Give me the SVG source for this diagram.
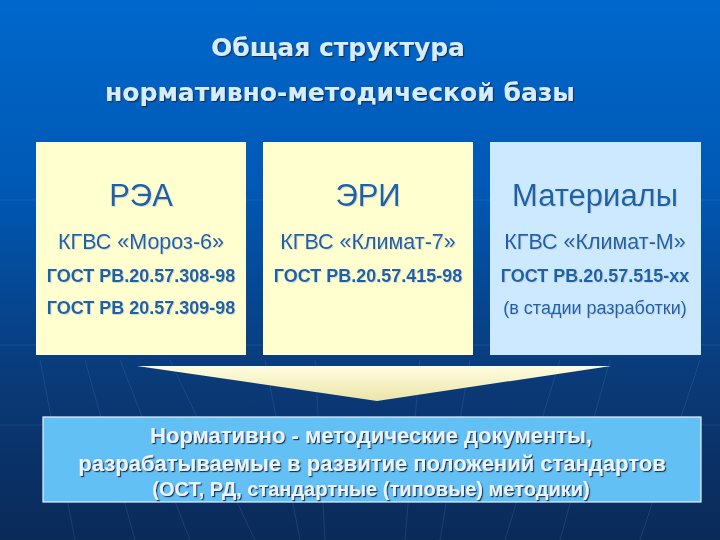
<svg xmlns="http://www.w3.org/2000/svg" width="720" height="540" viewBox="0 0 720 540">
<defs>
<linearGradient id="bg" x1="0" y1="0" x2="0" y2="1">
<stop offset="0" stop-color="#0068cc"/>
<stop offset="0.35" stop-color="#0058b4"/>
<stop offset="0.7" stop-color="#0a3a78"/>
<stop offset="1" stop-color="#0a2a58"/>
</linearGradient>
<linearGradient id="tri" x1="0" y1="0" x2="0" y2="1">
<stop offset="0" stop-color="#fffde0"/>
<stop offset="1" stop-color="#ece4a8"/>
</linearGradient>
<filter id="sh" x="-5%" y="-5%" width="110%" height="120%">
<feDropShadow dx="1.2" dy="1.2" stdDeviation="0.3" flood-color="#1a2a40" flood-opacity="0.9"/>
</filter>
<filter id="shl" x="-5%" y="-5%" width="110%" height="120%">
<feDropShadow dx="1" dy="1" stdDeviation="0.2" flood-color="#b8bcc0" flood-opacity="0.5"/>
</filter>
</defs>
<style>
.title{font-family:"DejaVu Sans",Verdana,sans-serif;font-weight:bold;font-size:25px;fill:#d6ecff;text-anchor:middle}
.yel{fill:#ffffcf}
.blu{fill:#cce9ff}
.head{font-family:"Liberation Sans",Arial,sans-serif;font-size:31px;fill:#1a62aa;text-anchor:middle}
.sub{font-family:"Liberation Sans",Arial,sans-serif;font-size:21.5px;fill:#1a62aa;text-anchor:middle}
.std{font-family:"Liberation Sans",Arial,sans-serif;font-size:18px;font-weight:bold;fill:#1a62aa;text-anchor:middle}
.note{font-family:"Liberation Sans",Arial,sans-serif;font-size:18px;font-weight:normal;fill:#1a62aa;text-anchor:middle}
.btxt{font-family:"Liberation Sans",Arial,sans-serif;font-weight:bold;fill:#eaf4ff;text-anchor:middle}
.grid{stroke:#5a8ac8;stroke-opacity:0.22;stroke-width:1;fill:none}
</style>
<rect x="0" y="0" width="720" height="540" fill="url(#bg)"/>
<g class="grid">
<line x1="0" y1="200" x2="720" y2="200"/>
<line x1="0" y1="345" x2="720" y2="345"/>
<line x1="0" y1="425" x2="720" y2="425"/>
<line x1="40" y1="360" x2="75" y2="540"/>
<line x1="85" y1="360" x2="135" y2="540"/>
<line x1="120" y1="360" x2="190" y2="540"/>
<line x1="170" y1="360" x2="255" y2="540"/>
<line x1="265" y1="360" x2="300" y2="540"/>
<line x1="315" y1="360" x2="325" y2="540"/>
<line x1="420" y1="360" x2="405" y2="540"/>
<line x1="470" y1="360" x2="440" y2="540"/>
<line x1="560" y1="360" x2="505" y2="540"/>
<line x1="610" y1="360" x2="560" y2="540"/>
<line x1="700" y1="360" x2="640" y2="540"/>
</g>
<g id="title" filter="url(#sh)">
<text class="title" x="338" y="56">Общая структура</text>
<text class="title" x="340" y="101">нормативно-методической базы</text>
</g>
<g id="node-rea">
<rect class="yel" x="36" y="142" width="210" height="213"/>
<g filter="url(#shl)">
<text class="head" x="141" y="206">РЭА</text>
<text class="sub" x="141" y="249">КГВС «Мороз-6»</text>
<text class="std" x="141" y="282">ГОСТ РВ.20.57.308-98</text>
<text class="std" x="141" y="314">ГОСТ РВ 20.57.309-98</text>
</g>
</g>
<g id="node-eri">
<rect class="yel" x="263" y="142" width="210" height="213"/>
<g filter="url(#shl)">
<text class="head" x="368" y="206">ЭРИ</text>
<text class="sub" x="368" y="249">КГВС «Климат-7»</text>
<text class="std" x="368" y="282">ГОСТ РВ.20.57.415-98</text>
</g>
</g>
<g id="node-mat">
<rect class="blu" x="490" y="142" width="211" height="213"/>
<g filter="url(#shl)">
<text class="head" x="595" y="206">Материалы</text>
<text class="sub" x="595" y="249">КГВС «Климат-М»</text>
<text class="std" x="595" y="282">ГОСТ РВ.20.57.515-xx</text>
<text class="note" x="595" y="314">(в стадии разработки)</text>
</g>
</g>
<g id="connectors">
<polygon points="137,366 611,366 377,401" fill="url(#tri)"/>
</g>
<g id="node-docs">
<rect x="43" y="417" width="658" height="85" fill="#63c0f4" stroke="#e6f4ff" stroke-width="1.2"/>
<g filter="url(#sh)">
<text class="btxt" x="371" y="443" font-size="22px">Нормативно - методические документы,</text>
<text class="btxt" x="372" y="471" font-size="22px">разрабатываемые в развитие положений стандартов</text>
<text class="btxt" x="371" y="496" font-size="20px">(ОСТ, РД, стандартные (типовые) методики)</text>
</g>
</g>
</svg>
